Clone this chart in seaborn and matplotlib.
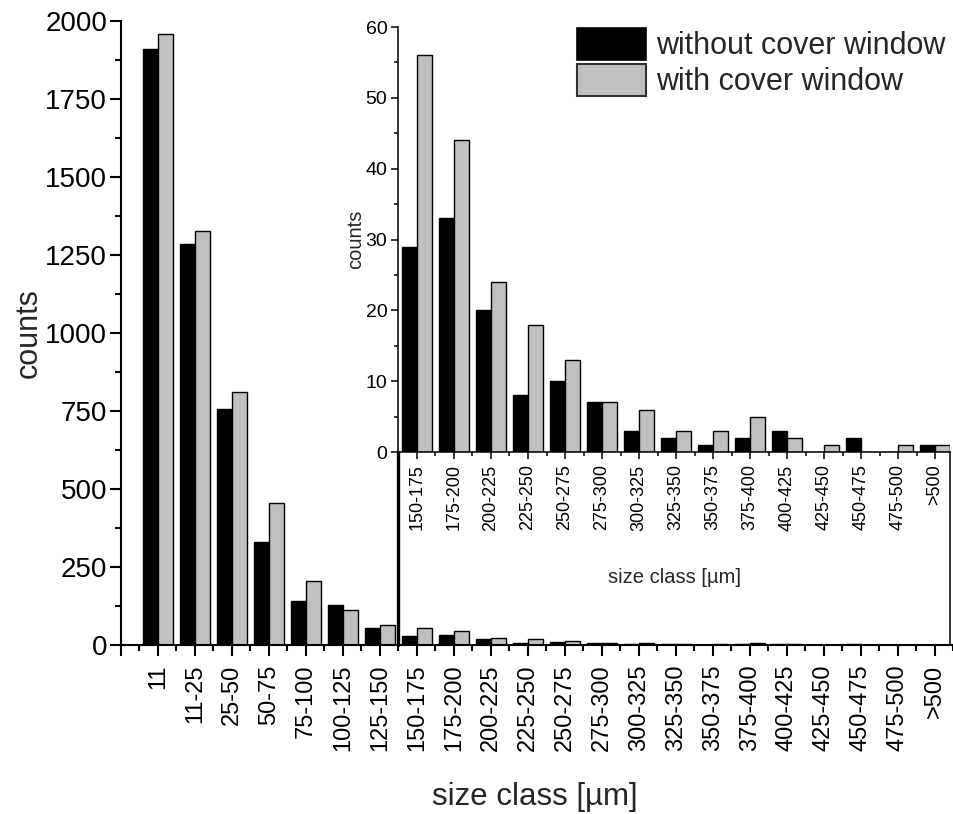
import matplotlib
matplotlib.use("Agg")
import matplotlib.pyplot as plt
import seaborn as sns
import pandas as pd
from matplotlib.patches import Patch
from matplotlib.lines import Line2D
from matplotlib.ticker import FixedLocator, MultipleLocator

# ---------------- data ----------------
main_categories = ["11", "11-25", "25-50", "50-75", "75-100", "100-125", "125-150",
                   "150-175", "175-200", "200-225", "225-250", "250-275", "275-300",
                   "300-325", "325-350", "350-375", "375-400", "400-425", "425-450",
                   "450-475", "475-500", ">500"]
without_main = [1909, 1285, 757, 329, 142, 127, 55,
                29, 33, 20, 8, 10, 7, 3, 2, 1, 2, 3, 0, 2, 0, 1]
with_main = [1958, 1326, 812, 456, 205, 112, 64,
             56, 44, 24, 18, 13, 7, 6, 3, 3, 5, 2, 1, 0, 1, 1]

inset_categories = ["150-175", "175-200", "200-225", "225-250", "250-275", "275-300",
                    "300-325", "325-350", "350-375", "375-400", "400-425", "425-450",
                    "450-475", "475-500", ">500"]
without_inset = [29, 33, 20, 8, 10, 7, 3, 2, 1, 2, 3, 0, 2, 0, 1]
with_inset = [56, 44, 24, 18, 13, 7, 6, 3, 3, 5, 2, 1, 0, 1, 1]

series_names = ["without cover window", "with cover window"]
colors = ["#000000", "#c0c0c0"]

main_yticks = [0, 250, 500, 750, 1000, 1250, 1500, 1750, 2000]
inset_yticks = [0, 10, 20, 30, 40, 50, 60]

# ---------------- style ----------------
sns.set_style("ticks")
plt.rcParams['font.family'] = ['Liberation Sans', 'DejaVu Sans']

W, H = 954, 814
fig = plt.figure(figsize=(W / 100, H / 100), dpi=100)


def fx(px):
    return px / W


def fy(py):
    return 1 - py / H


# pixel geometry
x0 = 121.0          # main left spine (category -1)
step = 37.0         # pixel per category
main_right = x0 + 22.5 * step
main_top, main_bot = 21.0, 645.0

ax = fig.add_axes([fx(x0), fy(main_bot), fx(main_right) - fx(x0), fy(main_top) - fy(main_bot)])

df_main = pd.DataFrame({
    "size": main_categories * 2,
    "counts": without_main + with_main,
    "series": [series_names[0]] * len(main_categories) + [series_names[1]] * len(main_categories),
})
sns.barplot(data=df_main, x="size", y="counts", hue="series", order=main_categories,
            hue_order=series_names, palette=colors, edgecolor="black", linewidth=1.0,
            width=0.8, gap=0, ax=ax, legend=False, errorbar=None, saturation=1)

ax.set_xlim(-1, 21.5)
ax.set_ylim(0, 2000)
ax.set_yticks(main_yticks)
ax.yaxis.set_minor_locator(MultipleLocator(125))
ax.set_xticks(list(range(-1, len(main_categories))))
ax.set_xticklabels([""] + main_categories, rotation=90)
ax.xaxis.set_minor_locator(FixedLocator([i + 0.5 for i in range(-1, len(main_categories))]))
for s in ["top", "right"]:
    ax.spines[s].set_visible(False)
for s in ["left", "bottom"]:
    ax.spines[s].set_linewidth(1.5)
    ax.spines[s].set_color("black")
ax.tick_params(axis="both", which="major", direction="out", length=8, width=1.5, colors="black")
ax.tick_params(axis="y", which="major", pad=2, labelsize=20)
ax.tick_params(axis="x", which="major", pad=6, labelsize=17)
ax.tick_params(axis="both", which="minor", direction="out", length=4.5, width=1.5, colors="black")
ax.set_xlabel("size class [µm]", fontsize=22.5)
ax.set_ylabel("counts", fontsize=22)
ax.xaxis.set_label_coords(0.497, -0.219)
ax.yaxis.set_label_coords(-0.0925, 0.5)
ax.grid(False)

# ---------------- inset ----------------
in_left = x0 + 7.5 * step       # category 6.5
in_right = 950.0
in_top, in_bot = 27.0, 452.0
axi = fig.add_axes([fx(in_left), fy(in_bot), fx(in_right) - fx(in_left), fy(in_top) - fy(in_bot)])

df_in = pd.DataFrame({
    "size": inset_categories * 2,
    "counts": without_inset + with_inset,
    "series": [series_names[0]] * len(inset_categories) + [series_names[1]] * len(inset_categories),
})
sns.barplot(data=df_in, x="size", y="counts", hue="series", order=inset_categories,
            hue_order=series_names, palette=colors, edgecolor="black", linewidth=1.0,
            width=0.8, gap=0, ax=axi, legend=False, errorbar=None, saturation=1)
axi.set_xlim(-0.5, (in_right - in_left) / step - 0.5)
axi.set_ylim(0, 60)
axi.set_yticks(inset_yticks)
axi.yaxis.set_minor_locator(MultipleLocator(5))
axi.set_xticks(list(range(len(inset_categories))))
axi.set_xticklabels(inset_categories, rotation=90)
axi.xaxis.set_minor_locator(FixedLocator([i + 0.5 for i in range(-1, len(inset_categories))]))
axi.patch.set_alpha(0)
for s in ["top", "right"]:
    axi.spines[s].set_visible(False)
for s in ["left", "bottom"]:
    axi.spines[s].set_linewidth(1.1)
    axi.spines[s].set_color("black")
axi.tick_params(axis="both", which="major", direction="out", length=5, width=1.1,
                colors="black", pad=3)
axi.tick_params(axis="y", which="major", labelsize=14)
axi.tick_params(axis="x", which="major", pad=4, labelsize=13)
axi.tick_params(axis="both", which="minor", direction="out", length=3, width=1.1, colors="black")
axi.set_xlabel("size class [µm]", fontsize=14.5)
axi.set_ylabel("counts", fontsize=14.5)
axi.xaxis.set_label_coords(0.5, -0.272)
axi.yaxis.set_label_coords(-0.061, 0.5)
axi.grid(False)

# frame below inset
fig.add_artist(Line2D([fx(in_left), fx(in_left)], [fy(in_bot), fy(main_bot)],
                      color="black", linewidth=2.4, transform=fig.transFigure))
fig.add_artist(Line2D([fx(in_right), fx(in_right)], [fy(in_bot), fy(main_bot)],
                      color="black", linewidth=1.1, transform=fig.transFigure))

# ---------------- legend ----------------
handles = [Patch(facecolor=colors[0], edgecolor="black", linewidth=1.2),
           Patch(facecolor=colors[1], edgecolor="#333333", linewidth=1.5)]
fig.legend(handles, series_names, loc="upper left",
           bbox_to_anchor=(fx(577), fy(28)), bbox_transform=fig.transFigure,
           frameon=False, borderpad=0, borderaxespad=0, fontsize=22,
           handlelength=2.25, handleheight=1.22, labelspacing=0.1, handletextpad=0.33)

fig.savefig("out.png", dpi=100)
